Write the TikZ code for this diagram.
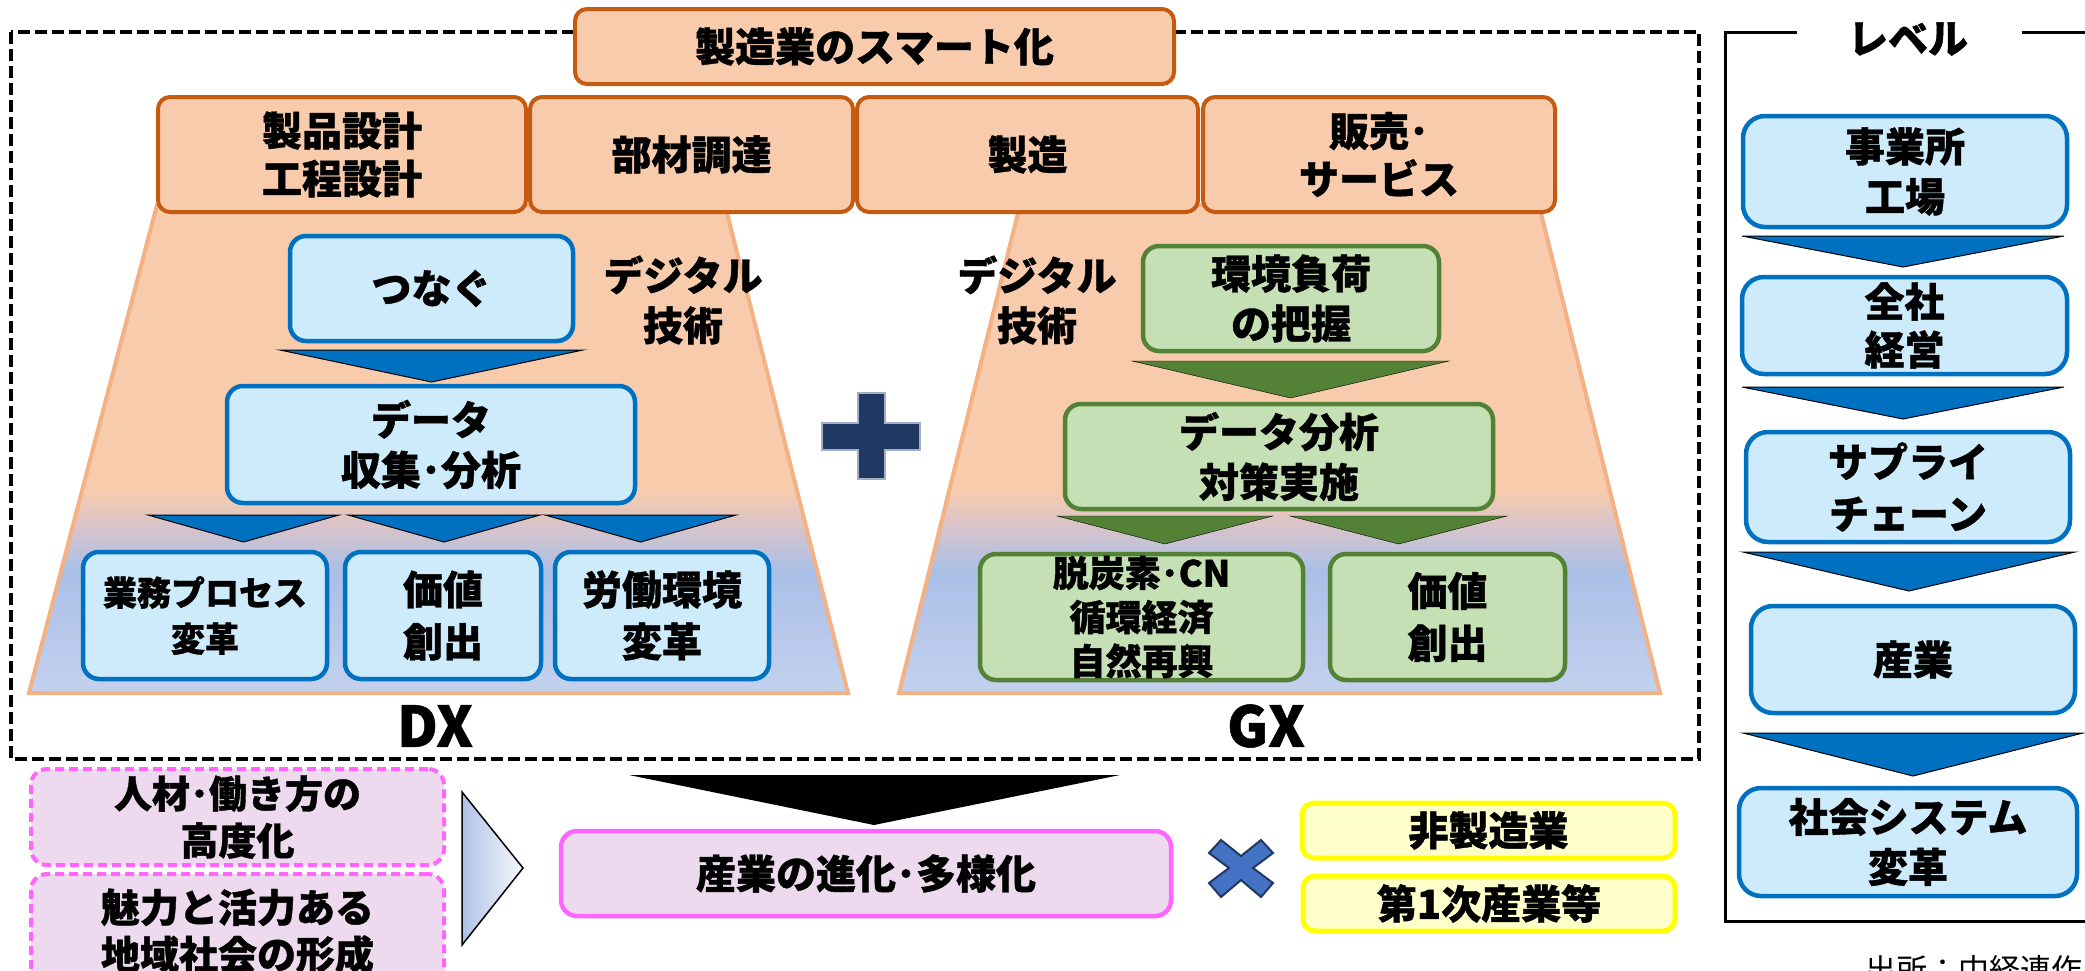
\documentclass[tikz,border=0pt]{standalone}
\usepackage{fontspec}
\newfontfamily\jp{Noto Sans CJK JP}[BoldFeatures={FakeBold=1}]
\newcommand\jpb{\jp\bfseries}
\definecolor{peach}{HTML}{F8CBAD}
\definecolor{orgB}{HTML}{C55A11}
\definecolor{trapB}{HTML}{F4B183}
\definecolor{lblue}{HTML}{CDEBFB}
\definecolor{blueB}{HTML}{0070C0}
\definecolor{lgreen}{HTML}{C5E0B4}
\definecolor{greenB}{HTML}{538135}
\definecolor{gradmid}{HTML}{D9C4C9}
\definecolor{gradblue}{HTML}{AABFE6}
\definecolor{gradlow}{HTML}{C3D1EE}
\definecolor{pinkF}{HTML}{EDDAEE}
\definecolor{pinkB}{HTML}{FF66FF}
\definecolor{yelF}{HTML}{FFFFCC}
\definecolor{yelB}{HTML}{FFFF00}
\definecolor{navy}{HTML}{203864}
\definecolor{xblue}{HTML}{4472C4}
\definecolor{arrL}{HTML}{AFC2E6}
\pgfdeclareverticalshading{trapshade}{100bp}{color(0bp)=(gradlow); color(25bp)=(gradlow); color(37.6bp)=(gradblue); color(42.2bp)=(gradmid); color(45.8bp)=(peach); color(100bp)=(peach)}
\newcommand\dtri[5]{\filldraw[#1] (#2,#4) -- (#3,#4) -- ({(#2+#3)/2},#5) -- cycle;}
\tikzset{
  txt/.style={font=\jpb\fontsize{40}{50}\selectfont, align=center, inner sep=0pt},
  proc/.style={txt, draw=orgB, fill=peach, line width=4, rounded corners=12, font=\jpb\fontsize{40}{48}\selectfont},
  bbox/.style={txt, draw=blueB, fill=lblue, line width=4.5, rounded corners=16},
  lbox/.style={txt, draw=blueB, fill=lblue, line width=4.5, rounded corners=22},
  gbox/.style={txt, draw=greenB, fill=lgreen, line width=4.5, rounded corners=16},
  pinkd/.style={txt, draw=pinkB, fill=pinkF, line width=4, rounded corners=16, dash pattern=on 9pt off 5pt, font=\jpb\fontsize{38}{47}\selectfont},
  pinks/.style={txt, draw=pinkB, fill=pinkF, line width=4.5, rounded corners=16},
  ybox/.style={txt, draw=yelB, fill=yelF, line width=5, rounded corners=12},
  btri/.style={fill=blueB, draw=black, line width=1},
  gtri/.style={fill=greenB},
  label/.style={font=\jpb\fontsize{56}{60}\selectfont, inner sep=0pt}
}
\begin{document}
\begin{tikzpicture}[x=1pt,y=-1pt]
\useasboundingbox (0,0) rectangle (2085,970);
\fill[white] (0,0) rectangle (2085,970);
% dashed frame
\draw[line width=3.8, dash pattern=on 12pt off 5pt] (11,32) rectangle (1699,759);
% trapezoids
\shadedraw[shading=trapshade, draw=trapB, line width=4] (157,205) -- (725,205) -- (848,693) -- (29,693) -- cycle;
\shadedraw[shading=trapshade, draw=trapB, line width=4] (1020,205) -- (1539,205) -- (1660,693) -- (899,693) -- cycle;
% process boxes
\node[proc, minimum width=368, minimum height=115] (p1) at (342,154.5) {製品設計\\工程設計};
\node[proc, minimum width=323, minimum height=115] (p2) at (691.5,154.5) {部材調達};
\node[proc, minimum width=341, minimum height=115] (p3) at (1027.5,154.5) {製造};
\node[proc, minimum width=352, minimum height=115] (p4) at (1379,154.5) {販売･\\サービス};
\node[proc, minimum width=599, minimum height=75] (top) at (874.5,46.5) {製造業のスマート化};
% DX
\node[bbox, minimum width=283, minimum height=105] (tsunagu) at (431.5,288.5) {つなぐ};
\dtri{btri}{280}{583}{350}{382}
\node[bbox, minimum width=408, minimum height=117] (dxdata) at (431,444.5) {データ\\収集･分析};
\dtri{btri}{148}{339}{515}{542}
\dtri{btri}{348}{540}{515}{542}
\dtri{btri}{545}{736}{515}{542}
\node[bbox, minimum width=244, minimum height=127, font=\jpb\fontsize{34}{46}\selectfont] (dx1) at (205,615.5) {業務プロセス\\変革};
\node[bbox, minimum width=196, minimum height=127, font=\jpb\fontsize{40}{52}\selectfont] (dx2) at (443,615.5) {価値\\創出};
\node[bbox, minimum width=214, minimum height=127, font=\jpb\fontsize{40}{52}\selectfont] (dx3) at (662,615.5) {労働環境\\変革};
\node[txt] (dxdig) at (683,300) {デジタル\\技術};
\node[label] (dxl) at (435,726) {DX};
% plus
\filldraw[fill=navy, draw=navy!40!white, line width=1.5] (858,393) -- (885,393) -- (885,423) -- (920,423) -- (920,450) -- (885,450) -- (885,479) -- (858,479) -- (858,450) -- (822,450) -- (822,423) -- (858,423) -- cycle;
% GX
\node[gbox, minimum width=296, minimum height=105] (kankyo) at (1291,298.5) {環境負荷\\の把握};
\dtri{gtri}{1132}{1449}{361}{398}
\node[gbox, minimum width=428, minimum height=105] (gxdata) at (1279,456.5) {データ分析\\対策実施};
\dtri{gtri}{1057}{1273}{516}{544}
\dtri{gtri}{1290}{1507}{516}{544}
\node[gbox, minimum width=323, minimum height=126, font=\jpb\fontsize{36}{44}\selectfont] (gx1) at (1141.5,617) {脱炭素･CN\\循環経済\\自然再興};
\node[gbox, minimum width=235, minimum height=126, font=\jpb\fontsize{40}{52}\selectfont] (gx2) at (1447.5,617) {価値\\創出};
\node[txt] (gxdig) at (1037,300) {デジタル\\技術};
\node[label] (gxl) at (1266,726) {GX};
% level panel
\draw[line width=3] (1797,32) -- (1725,32) -- (1725,921) -- (2090,921);
\draw[line width=3] (2022,32) -- (2090,32);
\node[txt] (lvl) at (1908,39) {レベル};
\node[lbox, minimum width=324, minimum height=111] (l1) at (1905,171.5) {事業所\\工場};
\dtri{btri}{1742}{2064}{236}{267}
\node[lbox, minimum width=325, minimum height=97, font=\jpb\fontsize{40}{48}\selectfont] (l2) at (1904.5,325.5) {全社\\経営};
\dtri{btri}{1742}{2064}{387}{419}
\node[lbox, minimum width=324, minimum height=110, font=\jpb\fontsize{40}{52}\selectfont] (l3) at (1908,487) {サプライ\\チェーン};
\dtri{btri}{1743}{2075}{552}{591}
\node[lbox, minimum width=324, minimum height=107] (l4) at (1913,659.5) {産業};
\dtri{btri}{1743}{2083}{733}{776}
\node[lbox, minimum width=338, minimum height=108] (l5) at (1908,842) {社会システム\\変革};
\node[font=\jp\fontsize{31}{36}\selectfont, anchor=base west, inner sep=0pt] (src) at (1865,981) {出所：中経連作};
% bottom row
\node[pinkd, minimum width=413, minimum height=96] (pk1) at (237.5,817) {人材･働き方の\\高度化};
\node[pinkd, minimum width=413, minimum height=114, font=\jpb\fontsize{39}{47}\selectfont] (pk2) at (237.5,931) {魅力と活力ある\\地域社会の形成};
\shadedraw[left color=arrL, right color=white!90!arrL, draw=black, line width=1.5] (462,792) -- (523,868) -- (462,945) -- cycle;
\fill[black] (629,775) -- (1120,775) -- (874,825) -- cycle;
\node[pinks, minimum width=610, minimum height=85] (evo) at (866,873.5) {産業の進化･多様化};
\filldraw[fill=xblue, draw=navy, line width=2] (1221,840) -- (1241,856) -- (1261,840) -- (1273,853) -- (1253,868) -- (1273,883) -- (1261,897) -- (1241,880) -- (1221,897) -- (1209,883) -- (1229,868) -- (1209,853) -- cycle;
\node[ybox, minimum width=373, minimum height=55] (y1) at (1488.5,830.5) {非製造業};
\node[ybox, minimum width=372, minimum height=55] (y2) at (1489,903.5) {第1次産業等};
\end{tikzpicture}
\end{document}
